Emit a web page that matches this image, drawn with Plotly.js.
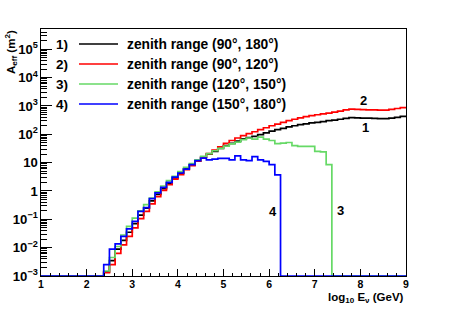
<!DOCTYPE html>
<html>
<head>
<meta charset="utf-8">
<script src="https://cdn.plot.ly/plotly-3.0.1.min.js"></script>
<style>html,body{margin:0;padding:0;background:#fff;}#chart{width:457px;height:309px;}</style>
</head>
<body>
<div id="chart"></div>
<script>
// bin edges of log10(E/GeV), 64 bins
const binEdges = [1.0,1.125,1.25,1.375,1.5,1.625,1.75,1.875,2.0,2.125,2.25,2.375,2.5,2.625,2.75,2.875,
  3.0,3.125,3.25,3.375,3.5,3.625,3.75,3.875,4.0,4.125,4.25,4.375,4.5,4.625,4.75,4.875,
  5.0,5.125,5.25,5.375,5.5,5.625,5.75,5.875,6.0,6.125,6.25,6.375,6.5,6.625,6.75,6.875,
  7.0,7.125,7.25,7.375,7.5,7.625,7.75,7.875,8.0,8.125,8.25,8.375,8.5,8.625,8.75,8.875,9.0];

// A_eff (m^2) per bin
const aeff90to180 = [0,0,0,0,0,0,0,0,0,0,0,
  0.0014,0.0035,0.0089,0.018,0.035,0.071,0.14,0.25,0.45,0.76,
  1.2,1.9,2.9,4.2,6.0,8.3,11.5,15.5,20,25.1,
  31.6,39.8,47.9,57.5,69.2,75.9,85.1,97.7,112,129,
  145,162,182,200,219,234,251,263,282,302,
  316,339,363,389,380,372,372,363,355,355,
  372,398,427];
const aeff90to120 = [0,0,0,0,0,0,0,0,0,0,0,
  0.0013,0.0025,0.0063,0.0126,0.025,0.05,0.105,0.19,0.35,0.63,
  1.05,1.66,2.6,3.8,5.6,7.9,11.2,15.5,20.9,27.5,
  36.3,47.9,60.3,74.1,89.1,105,123,145,170,200,
  229,263,302,339,380,417,457,490,525,562,
  603,661,724,776,759,741,724,724,708,708,
  759,813,871];
const aeff120to150 = [0,0,0,0,0,0,0,0,0,0,0,
  0.0015,0.0045,0.011,0.028,0.056,0.11,0.20,0.33,0.56,0.93,
  1.5,2.3,3.3,4.8,6.8,9.3,12.6,16.6,20.9,26.3,
  31.6,38,45.7,52.5,64.6,74,67.6,79.4,67.6,60.3,
  46.8,49,51.3,39.8,37.2,37.2,37.2,25.1,24,8.5,
  0,0,0,0,0,0,0,0,0,0,0,0,0];
const aeff150to180 = [0,0,0,0,0,0,0,0,0,0,0,
  0.0025,0.0089,0.0135,0.025,0.046,0.085,0.19,0.26,0.54,0.85,
  1.35,2.0,3.1,4.3,5.9,8.5,11.7,14.5,12.6,13.2,
  14.1,14.1,12.6,17.4,12.6,11.7,16.2,12.6,11.0,8.5,
  3.7,
  0,0,0,0,0,0,0,0,0,0,0,0,0,0,0,0,0,0,0,0,0,0];

const seriesTags = ["1)", "2)", "3)", "4)"];
const seriesNames = ["zenith range (90°, 180°)", "zenith range (90°, 120°)", "zenith range (120°, 150°)", "zenith range (150°, 180°)"];
const curveLabels = ["1", "2", "3", "4"];
const curveLabelPos = [[8.12, 2.24], [8.07, 3.19], [7.57, -0.68], [6.08, -0.72]]; // [x, log10 y]
const colors = ["#000000", "#ff0000", "#66d966", "#0000ff"];
const allSeries = [aeff90to180, aeff90to120, aeff120to150, aeff150to180];

const yFloor = 1e-3;
function stepTrace(vals, color) {
  const x = binEdges.slice();
  const y = vals.map(v => Math.max(v, yFloor));
  y.push(y[y.length - 1]);
  return {x: x, y: y, type: 'scatter', mode: 'lines', line: {shape: 'hv', color: color, width: 1.7}, hoverinfo: 'skip', showlegend: false};
}
const traces = allSeries.map((s, i) => stepTrace(s, colors[i]));

const F = "Liberation Sans, Arial, sans-serif";
const annotations = [];
const shapes = [];
const rowY = [44, 64, 84, 104];
const plotTop = 29, plotH = 247, plotL = 41, plotW = 365;
function py(pix) { return 1 - (pix - plotTop) / plotH; }
function px(pix) { return (pix - plotL) / plotW; }
for (let i = 0; i < 4; i++) {
  annotations.push({xref: 'paper', yref: 'paper', x: px(54), y: py(rowY[i]), xanchor: 'left', yanchor: 'middle', showarrow: false,
    text: '<b>' + seriesTags[i] + '</b>', font: {family: F, size: 13.5, color: '#000'}});
  annotations.push({xref: 'paper', yref: 'paper', x: px(125), y: py(rowY[i]), xanchor: 'left', yanchor: 'middle', showarrow: false,
    text: '<b>' + seriesNames[i] + '</b>', font: {family: F, size: 13.8, color: '#000'}});
  shapes.push({type: 'line', xref: 'paper', yref: 'paper', x0: px(79), x1: px(118), y0: py(rowY[i]), y1: py(rowY[i]),
    line: {color: colors[i], width: 1.7}});
  annotations.push({xref: 'x', yref: 'y', x: curveLabelPos[i][0], y: curveLabelPos[i][1], showarrow: false,
    text: '<b>' + curveLabels[i] + '</b>', font: {family: F, size: 13, color: '#000'}});
}
annotations.push({xref: 'paper', yref: 'paper', x: px(406), y: py(297.5), xanchor: 'right', yanchor: 'middle', showarrow: false,
  text: '<b>log<sub>10</sub> E<sub>ν</sub> (GeV)</b>', font: {family: F, size: 11.5, color: '#000'}});
annotations.push({xref: 'paper', yref: 'paper', x: px(11), y: py(28), xanchor: 'center', yanchor: 'top', textangle: -90, showarrow: false,
  text: '<b>A<sub>eff</sub> (m<sup>2</sup>)</b>', font: {family: F, size: 11.5, color: '#000'}});

const layout = {
  width: 457, height: 309,
  margin: {l: 41, r: 51, t: 29, b: 33, pad: 0},
  paper_bgcolor: '#fff', plot_bgcolor: '#fff',
  showlegend: false,
  xaxis: {range: [1, 9], dtick: 1, tick0: 1, ticks: 'inside', ticklen: 7, tickwidth: 1, tickcolor: '#000',
    showline: true, linecolor: '#000', linewidth: 1, mirror: true, showgrid: false, zeroline: false,
    ticklabelstandoff: -2,
    tickfont: {family: F, size: 10.5, color: '#000', weight: 'bold'},
    minor: {dtick: 0.2, ticks: 'inside', ticklen: 3.5, tickcolor: '#000', tickwidth: 1, showgrid: false}},
  yaxis: {type: 'log', range: [-3, 5.715], dtick: 1, ticks: 'inside', ticklen: 11, tickwidth: 1, tickcolor: '#000',
    exponentformat: 'power', showline: true, linecolor: '#000', linewidth: 1, mirror: true, showgrid: false, zeroline: false,
    tickfont: {family: F, size: 10.5, color: '#000', weight: 'bold'},
    minor: {dtick: 'D1', ticks: 'inside', ticklen: 6, tickcolor: '#000', tickwidth: 1, showgrid: false}},
  annotations: annotations,
  shapes: shapes
};
Plotly.newPlot('chart', traces, layout, {staticPlot: true, displayModeBar: false});
</script>
</body>
</html>
